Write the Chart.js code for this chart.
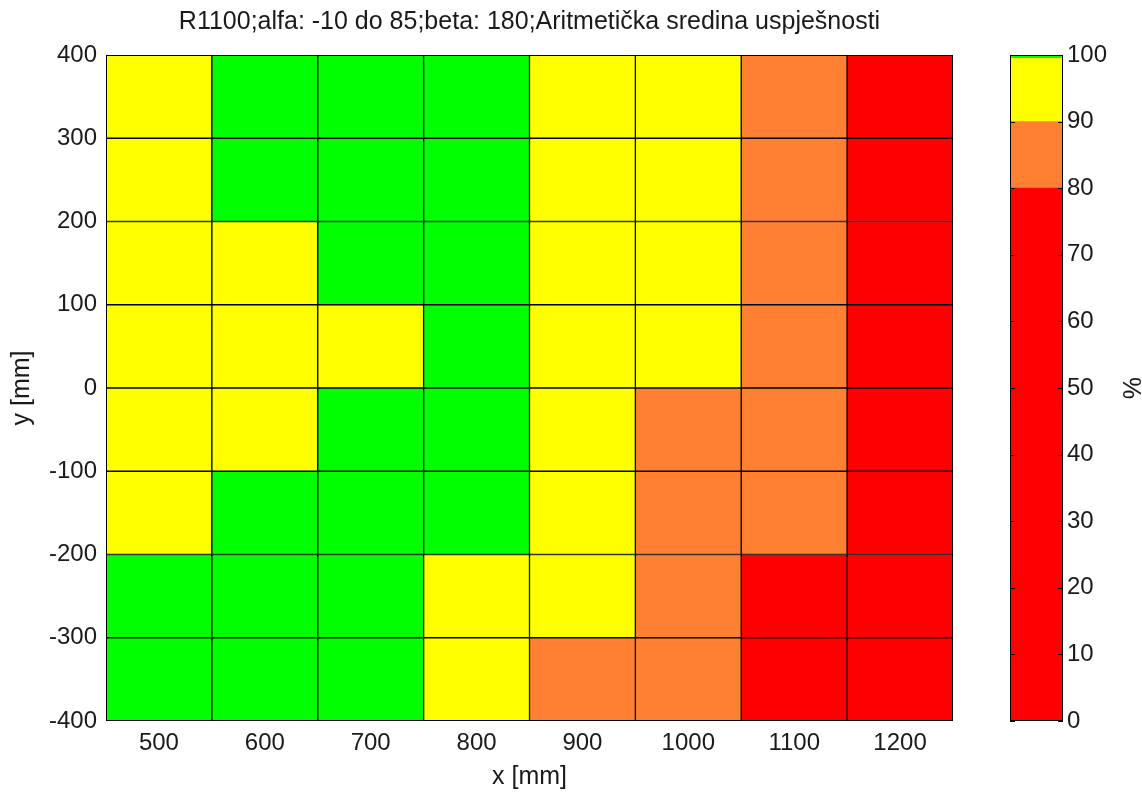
<!DOCTYPE html>
<html>
<head>
<meta charset="utf-8">
<script src="https://cdn.jsdelivr.net/npm/chart.js@4.4.1/dist/chart.umd.min.js"></script>
<style>
  body { margin: 0; background: #fff; }
  #wrap { position: relative; width: 1142px; height: 792px; }
  #main { position: absolute; left: 0; top: 0; }
  #bar { position: absolute; left: 990px; top: 0; }
</style>
</head>
<body>
<div id="wrap">
  <canvas id="main" width="980" height="792"></canvas>
  <canvas id="bar" width="152" height="792"></canvas>
</div>
<script>
// x categories and y cell edges (mm)
const xLabels = ['500', '600', '700', '800', '900', '1000', '1100', '1200'];
const yEdges = [-400, -300, -200, -100, 0, 100, 200, 300, 400];

// success (%) per row, named by the row's lower edge
const rowM400 = [100, 100, 100, 95, 86, 84, 72, 65];
const rowM300 = [100, 100, 100, 94, 92, 85, 75, 68];
const rowM200 = [95, 100, 100, 100, 93, 84, 83, 70];
const rowM100 = [96, 95, 100, 100, 92, 86, 85, 71];
const row0 = [95, 96, 93, 100, 94, 92, 86, 73];
const row100 = [96, 94, 100, 100, 93, 92, 85, 72];
const row200 = [95, 100, 100, 100, 94, 93, 86, 70];
const row300 = [96, 100, 100, 100, 95, 92, 84, 69];
const rows = [rowM400, rowM300, rowM200, rowM100, row0, row100, row200, row300];

// colorbar levels
const cbEdges = [0, 80, 90, 99.5, 100];
const cbColors = ['#ff0000', '#ff7f33', '#ffff00', '#00ff00'];

const FONT = "'Liberation Sans', Arial, sans-serif";
const TXT = '#1a1a1a';

function colorFor(v) {
  for (let i = cbEdges.length - 2; i >= 0; i--) {
    if (v >= cbEdges[i]) return cbColors[i];
  }
  return cbColors[0];
}

// black frame round the plot area (+ inward ticks for the colorbar)
const frame = {
  id: 'frame',
  afterDraw(chart, args, opts) {
    const ctx = chart.ctx;
    const a = chart.chartArea;
    ctx.save();
    ctx.strokeStyle = '#000';
    ctx.lineWidth = 1;
    if (opts.ticks) {
      const y = chart.scales.y;
      y.ticks.forEach(t => {
        const py = Math.round(y.getPixelForValue(t.value)) + 0.5;
        ctx.beginPath();
        ctx.moveTo(a.left, py); ctx.lineTo(a.left + 5, py);
        ctx.moveTo(a.right - 5, py); ctx.lineTo(a.right, py);
        ctx.stroke();
      });
    }
    ctx.strokeRect(Math.round(a.left) + 0.5, Math.round(a.top) + 0.5,
      Math.round(a.right - a.left) - 1, Math.round(a.bottom - a.top) - 1);
    ctx.restore();
  }
};

const datasets = rows.map((vals, r) => ({
  data: vals.map(() => [yEdges[r], yEdges[r + 1]]),
  backgroundColor: vals.map(colorFor),
  borderColor: '#000',
  borderWidth: 1,
  borderSkipped: false,
  barPercentage: 1,
  categoryPercentage: 1,
  grouped: false
}));

new Chart(document.getElementById('main'), {
  type: 'bar',
  data: { labels: xLabels, datasets: datasets },
  options: {
    responsive: false,
    animation: false,
    layout: { padding: { left: 0, right: 27, top: 0, bottom: 0 } },
    plugins: {
      legend: { display: false },
      tooltip: { enabled: false },
      frame: { ticks: false },
      title: {
        display: true,
        fullSize: false,
        text: 'R1100;alfa: -10 do 85;beta: 180;Aritmetička sredina uspješnosti',
        color: TXT,
        font: { family: FONT, size: 25, weight: 'normal' },
        padding: { top: 7, bottom: 18 }
      }
    },
    scales: {
      x: {
        type: 'category',
        offset: true,
        grid: { display: false, drawTicks: false },
        border: { display: false },
        ticks: { color: TXT, padding: 8, font: { family: FONT, size: 24 } },
        title: { display: true, text: 'x [mm]', color: TXT, padding: { top: 0, bottom: 0 },
                 font: { family: FONT, size: 25 } },
        afterFit(s) { s.height = 71; }
      },
      y: {
        type: 'linear',
        min: -400,
        max: 400,
        grid: { display: false, drawTicks: false },
        border: { display: false },
        ticks: { stepSize: 100, color: TXT, padding: 9, font: { family: FONT, size: 24 } },
        title: { display: true, text: 'y [mm]', color: TXT, padding: { top: 7, bottom: 0 },
                 font: { family: FONT, size: 25 } },
        afterFit(s) { s.width = 106; }
      }
    }
  },
  plugins: [frame]
});

// colorbar
const cbData = cbColors.map((c, i) => ({
  data: [[cbEdges[i], cbEdges[i + 1]]],
  backgroundColor: c,
  borderWidth: 0,
  barPercentage: 1,
  categoryPercentage: 1,
  grouped: false
}));

new Chart(document.getElementById('bar'), {
  type: 'bar',
  data: { labels: [''], datasets: cbData },
  options: {
    responsive: false,
    animation: false,
    layout: { padding: { left: 20, right: 0, top: 55, bottom: 71 } },
    plugins: {
      legend: { display: false },
      tooltip: { enabled: false },
      frame: { ticks: true }
    },
    scales: {
      x: { display: false },
      y: {
        position: 'right',
        min: 0,
        max: 100,
        grid: { display: false, drawTicks: false },
        border: { display: false },
        ticks: { stepSize: 10, color: TXT, padding: 4, font: { family: FONT, size: 24 } },
        title: { display: true, text: '%', color: TXT, padding: { top: -3, bottom: 0 },
                 font: { family: FONT, size: 25 } },
        afterFit(s) { s.width = 79; }
      }
    }
  },
  plugins: [frame]
});
</script>
</body>
</html>
